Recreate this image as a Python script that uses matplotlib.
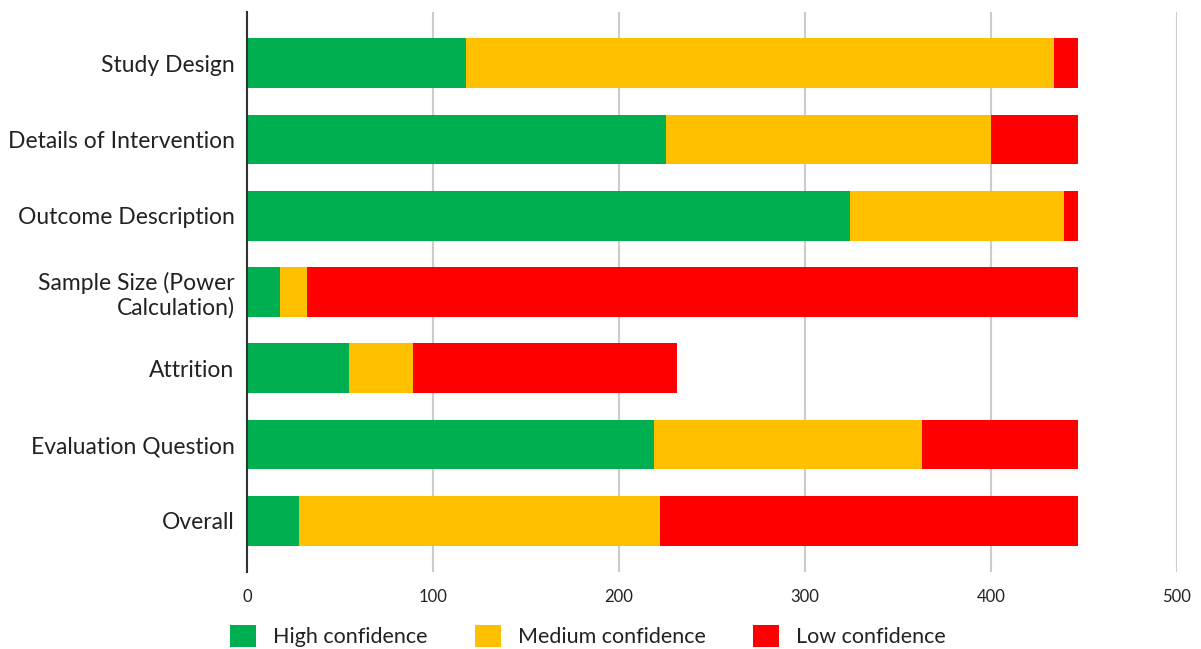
import matplotlib.pyplot as plt
from matplotlib.patches import Patch

plt.rcParams['font.family'] = ['Lato', 'DejaVu Sans']

# ================== 数据 ==================
categories = ['Study Design', 'Details of Intervention', 'Outcome Description',
              'Sample Size (Power\nCalculation)', 'Attrition', 'Evaluation Question', 'Overall']
high = [118, 225, 324, 18, 55, 219, 28]
medium = [316, 175, 115, 14, 34, 144, 194]
low = [13, 47, 8, 415, 142, 84, 225]

series_names = ['High confidence', 'Medium confidence', 'Low confidence']
colors = ['#00B050', '#FFC000', '#FF0000']

# ================== 绘图 ==================
fig = plt.figure(figsize=(12.01, 6.49), dpi=100)
ax = fig.add_axes([247 / 1201, 1 - 572 / 649, (1177 - 247) / 1201, 560 / 649])

y = list(range(len(categories)))
left = [0] * len(categories)
for vals, c in zip([high, medium, low], colors):
    ax.barh(y, vals, left=left, height=0.65, color=c, zorder=3)
    left = [l + v for l, v in zip(left, vals)]

ax.set_xlim(0, 500)
ax.set_ylim(6.67, -0.67)
ax.set_yticks(y)
ax.set_yticklabels(categories, fontsize=16.5, color='#222222', linespacing=1.15)
ax.set_xticks([0, 100, 200, 300, 400, 500])
ax.tick_params(axis='x', labelsize=12, colors='#222222', length=0, pad=12)
ax.tick_params(axis='y', length=0, pad=9)
ax.xaxis.grid(True, color='#CCCCCC', linewidth=1.5, zorder=0)
for s in ['top', 'right', 'bottom']:
    ax.spines[s].set_visible(False)
ax.spines['left'].set_color('#333333')
ax.spines['left'].set_linewidth(1.5)
ax.spines['left'].set_zorder(4)

handles = [Patch(facecolor=c, label=n) for c, n in zip(colors, series_names)]
fig.legend(handles=handles, loc='center', bbox_to_anchor=(0.4896, 0.02), ncol=3,
           frameon=False, fontsize=15.5, handlelength=1.2, handleheight=1.2,
           columnspacing=2.2, handletextpad=0.8, labelcolor='#222222')

fig.savefig('out.png', dpi=100)
